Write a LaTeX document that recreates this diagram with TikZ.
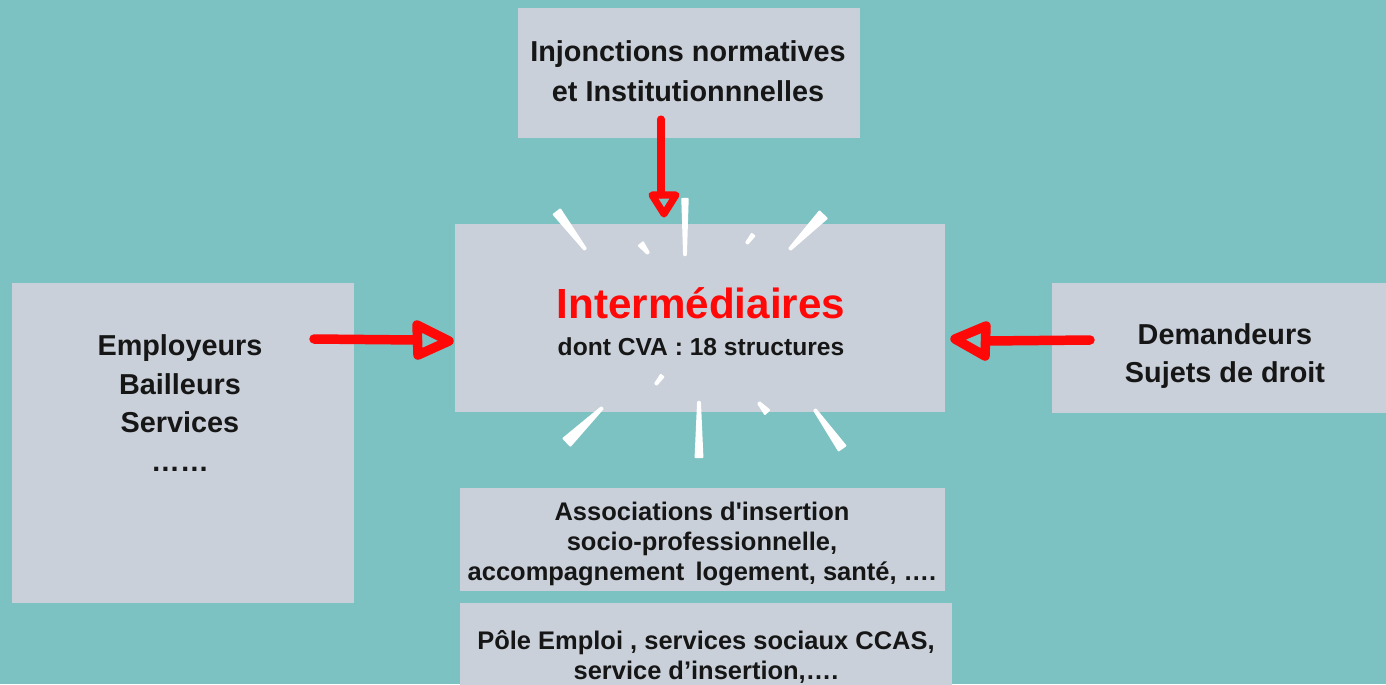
\documentclass[tikz,border=0pt]{standalone}
\usepackage{fontspec}
\setmainfont{Liberation Sans}
\newfontfamily\plainsans{Liberation Sans}
\usetikzlibrary{calc}
\definecolor{bg}{HTML}{7CC2C2}
\definecolor{boxc}{HTML}{C9D0D9}
\definecolor{txt}{HTML}{161616}
\definecolor{redc}{HTML}{FF0808}
\newcommand\myray[3]{%
  \filldraw[white, line width=1.2pt, line join=round]
    ($#1!#3!90:#2$) -- ($#2!0.5pt!-90:#1$) -- ($#2!0.5pt!90:#1$) -- ($#1!#3!-90:#2$) -- cycle;}
\begin{document}
\begin{tikzpicture}[x=0.02cm,y=-0.02cm,
  box/.style={fill=boxc, draw=none, inner sep=0, outer sep=0, rectangle},
  lbl/.style={font=\bfseries\fontsize{16.4}{22.5}\selectfont, text=txt, align=center, inner sep=0},
  smalllbl/.style={font=\plainsans\bfseries\fontsize{14.5}{17}\selectfont, text=txt, align=center, inner sep=0},
  bigred/.style={draw=redc, line width=5.4pt, line cap=round, line join=round},
  topred/.style={draw=redc, line width=4pt, line cap=round, line join=round}]
\fill[bg] (0,0) rectangle (1386,684);
\useasboundingbox (0,0) rectangle (1386,684);

% boxes
\node[box, minimum width=6.84cm, minimum height=2.6cm] (top) at (689,73) {};
\node[box, minimum width=9.8cm, minimum height=3.76cm] (mid) at (700,318) {};
\node[box, minimum width=6.84cm, minimum height=6.4cm] (left) at (183,443) {};
\node[box, minimum width=6.68cm, minimum height=2.6cm] (right) at (1219,348) {};
\node[box, minimum width=9.7cm, minimum height=2.06cm] (bota) at (702.5,539.5) {};
\node[box, minimum width=9.84cm, minimum height=1.8cm] (botb) at (706,648) {};

% texts
\node[lbl] (toptxt) at (688,71) {Injonctions normatives\\et Institutionnnelles};
\node[font=\bfseries\fontsize{24}{28}\selectfont, text=redc, inner sep=0] (midtitle) at (701,303) {Intermédiaires};
\node[font=\bfseries\fontsize{14}{17}\selectfont, text=txt, inner sep=0] (midsub) at (701,347) {dont CVA : 18 structures};
\node[lbl, font=\bfseries\fontsize{16.4}{22}\selectfont] (lefttxt) at (180,403) {Employeurs\\Bailleurs\\Services\\……};
\node[lbl, font=\bfseries\fontsize{16.4}{22}\selectfont] (righttxt) at (1225,356) {Demandeurs\\Sujets de droit};
\node[smalllbl] (botatxt) at (702,544) {Associations d'insertion\\socio-professionnelle,\\accompagnement\, logement, santé, ….};
\node[smalllbl] (botbtxt) at (706,657) {Pôle Emploi , services sociaux CCAS,\\service d’insertion,….};

% arrows (shaft to the base of an open, hand-drawn triangle head)
\coordinate (la) at (314,339);
\coordinate (lb) at (417,340);
\coordinate (ra) at (1090,340);
\coordinate (rb) at (986,341);
\coordinate (ta) at (661,119);
\coordinate (tb) at (661,195);
\draw[bigred] (la) -- (lb);
\draw[bigred] (lb) ++(0,-15) -- ++(32,16) -- ++(-31,14) -- cycle;
\draw[bigred] (ra) -- (rb);
\draw[bigred] (rb) ++(0,-15) -- ++(-31,13) -- ++(30,17) -- cycle;
\draw[topred] (ta) -- (tb);
\draw[topred] (tb) ++(-9,0) -- ++(12,19) -- ++(12,-19) -- cycle;

% burst rays
\myray{(557,212)}{(585,249)}{2.3pt}
\myray{(641,244)}{(648,253)}{1.5pt}
\myray{(685,199)}{(685,255)}{1.5pt}
\myray{(753,235)}{(747,243)}{0.9pt}
\myray{(823,215)}{(790,249)}{2.8pt}
\myray{(662,376)}{(656,384)}{0.9pt}
\myray{(567,442)}{(602,408)}{2.8pt}
\myray{(699,457)}{(699,402)}{1.9pt}
\myray{(767,412)}{(759,403)}{1.6pt}
\myray{(842,448)}{(815,410)}{2.3pt}
\end{tikzpicture}
\end{document}
